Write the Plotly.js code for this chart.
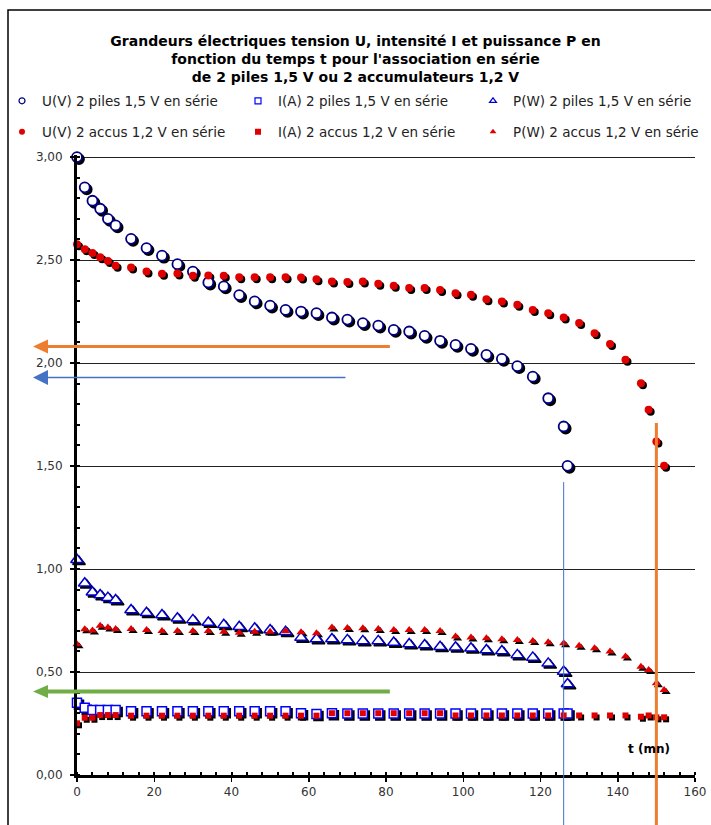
<!DOCTYPE html>
<html><head><meta charset="utf-8">
<script src="https://cdn.plot.ly/plotly-3.0.1.min.js"></script>
<style>html,body{margin:0;padding:0;background:#fff}#chart{width:711px;height:825px}</style>
</head><body><div id="chart"></div>
<script>
// ---- data ----
const tPiles = [0,2,4,6,8,10,14,18,22,26,30,34,38,42,46,50,54,58,62,66,70,74,78,82,86,90,94,98,102,106,110,114,118,122,126,127];
const uPiles = [3.00,2.853,2.788,2.749,2.700,2.668,2.603,2.558,2.521,2.480,2.444,2.391,2.372,2.330,2.299,2.279,2.258,2.250,2.242,2.221,2.211,2.194,2.182,2.161,2.153,2.132,2.108,2.088,2.069,2.040,2.020,1.985,1.934,1.829,1.692,1.501];
const iPiles = [0.351,0.327,0.316,0.316,0.316,0.316,0.310,0.310,0.310,0.310,0.310,0.310,0.310,0.310,0.310,0.310,0.310,0.300,0.296,0.300,0.298,0.298,0.298,0.298,0.298,0.298,0.298,0.298,0.298,0.298,0.298,0.298,0.298,0.298,0.298,0.298];
const pPiles = [1.045,0.931,0.887,0.874,0.861,0.850,0.801,0.788,0.777,0.761,0.753,0.740,0.729,0.720,0.712,0.704,0.696,0.667,0.660,0.660,0.656,0.651,0.651,0.643,0.636,0.631,0.623,0.620,0.615,0.607,0.602,0.583,0.571,0.542,0.502,0.442];

const tAccus = [0,2,4,6,8,10,14,18,22,26,30,34,38,42,46,50,54,58,62,66,70,74,78,82,86,90,94,98,102,106,110,114,118,122,126,130,134,138,142,146,148,150,152];
const uAccus = [2.577,2.553,2.534,2.514,2.495,2.472,2.464,2.445,2.433,2.435,2.424,2.425,2.424,2.417,2.417,2.417,2.417,2.415,2.407,2.396,2.394,2.396,2.385,2.375,2.364,2.364,2.355,2.339,2.331,2.310,2.299,2.283,2.258,2.242,2.221,2.194,2.145,2.092,2.016,1.902,1.773,1.619,1.501];
const iAccus = [0.251,0.278,0.278,0.291,0.291,0.291,0.288,0.288,0.288,0.288,0.288,0.288,0.288,0.288,0.288,0.288,0.288,0.288,0.288,0.300,0.300,0.300,0.300,0.300,0.300,0.300,0.300,0.289,0.289,0.289,0.289,0.289,0.289,0.289,0.289,0.289,0.289,0.289,0.289,0.283,0.289,0.280,0.280];
const pAccus = [0.635,0.708,0.701,0.724,0.716,0.709,0.709,0.704,0.699,0.699,0.699,0.699,0.696,0.691,0.696,0.696,0.699,0.693,0.688,0.716,0.714,0.712,0.709,0.704,0.704,0.704,0.699,0.672,0.667,0.664,0.659,0.656,0.651,0.644,0.640,0.627,0.615,0.599,0.575,0.526,0.510,0.445,0.413];

const xTickStep = 20, xMinorStep = 4;
const yTickStep = 0.5, yMinorStep = 0.1;

// reference lines / arrows (data units)
const vLines = [ {t:126, top:1.422, color:'#4472C4', width:1}, {t:150, top:1.709, color:'#ED7D31', width:3} ];
const hArrows = [ {v:2.08, tEnd:81, color:'#ED7D31', width:3, head:7}, {v:1.93, tEnd:69.5, color:'#4472C4', width:1.5, head:7.5}, {v:0.405, tEnd:81, color:'#70AD47', width:4, head:6.5} ];

// ---- geometry ----
const W = 711, H = 825;
const M = {l:77, r:16, t:155, b:50, autoexpand:false};
const X_RANGE = [0,160], Y_RANGE = [0,3.01];
const plotW = W - M.l - M.r, plotH = H - M.t - M.b;
const SH = 2; // shadow offset px
const dx = SH*(X_RANGE[1]-X_RANGE[0])/plotW, dy = SH*(Y_RANGE[1]-Y_RANGE[0])/plotH;
const pxToPaperX = px => (px - M.l)/plotW;
const pxToPaperY = py => (H - M.b - py)/plotH;

const FONT = 'DejaVu Sans, Verdana, sans-serif';

const series = [
  {name:'U(V) 2 piles 1,5 V en série', t:tPiles, v:uPiles, symbol:'circle', size:10, fill:'#ffffff', line:'#000080', lw:1.8, legend:'legend',  lx:2,   ly:101},
  {name:'I(A) 2 piles 1,5 V en série', t:tPiles, v:iPiles, symbol:'square', size:9, fill:'#ffffff', line:'#0000FF', lw:1.5, legend:'legend2', lx:238, ly:101},
  {name:'P(W) 2 piles 1,5 V en série', t:tPiles, v:pPiles, symbol:'triangle-up', size:11, fill:'#ffffff', line:'#0000CC', lw:1.5, legend:'legend3', lx:473, ly:101},
  {name:'U(V) 2 accus 1,2 V en série', t:tAccus, v:uAccus, symbol:'circle', size:8, fill:'#E00000', line:'#E00000', lw:0, legend:'legend4', lx:2,   ly:132},
  {name:'I(A) 2 accus 1,2 V en série', t:tAccus, v:iAccus, symbol:'square', size:6, fill:'#E00000', line:'#E00000', lw:0, legend:'legend5', lx:238, ly:132},
  {name:'P(W) 2 accus 1,2 V en série', t:tAccus, v:pAccus, symbol:'triangle-up', size:8, fill:'#E00000', line:'#E00000', lw:0, legend:'legend6', lx:473, ly:132}
];

const traces = [];
// shadows
series.forEach(s => traces.push({type:'scatter', mode:'markers', x:s.t, y:s.v, xaxis:'x', yaxis:'y', showlegend:false, hoverinfo:'skip', cliponaxis:false,
  marker:{symbol:s.symbol, size:s.size, color:'#000', line:{color:'#000', width:s.lw}}}));
// main markers
series.forEach(s => traces.push({type:'scatter', mode:'markers', x:s.t, y:s.v, xaxis:'x2', yaxis:'y2', showlegend:false, name:s.name, cliponaxis:false,
  marker:{symbol:s.symbol, size:s.size, color:s.fill, line:{color:s.line, width:s.lw}}}));
// legend proxies
series.forEach(s => traces.push({type:'scatter', mode:'markers', x:[null], y:[null], xaxis:'x2', yaxis:'y2', name:s.name, legend:s.legend, showlegend:true,
  marker:{symbol:s.symbol, size:6, color:s.fill, line:{color:s.line, width:s.lw ? 1.2 : 0}}}));

const shapes = [];
shapes.push({type:'rect', xref:'paper', yref:'paper', x0:pxToPaperX(8), x1:pxToPaperX(730), y0:pxToPaperY(845), y1:pxToPaperY(10), line:{color:'#000', width:1.5}, fillcolor:'rgba(0,0,0,0)', layer:'below'});
vLines.forEach(l => shapes.push({type:'line', xref:'x2', yref:'paper', x0:l.t, x1:l.t, y0:pxToPaperY(840), y1:(l.top-Y_RANGE[0])/(Y_RANGE[1]-Y_RANGE[0]), line:{color:l.color, width:l.width}}));
const tipPaper = pxToPaperX(33), headLen = 15;
hArrows.forEach(a => {
  shapes.push({type:'line', xref:'paper', yref:'y2', x0:tipPaper + (headLen-1)/plotW, x1:(a.tEnd-X_RANGE[0])/(X_RANGE[1]-X_RANGE[0]), y0:a.v, y1:a.v, line:{color:a.color, width:a.width}});
  shapes.push({type:'path', xref:'paper', yref:'y2', xsizemode:'pixel', ysizemode:'pixel', xanchor:tipPaper, yanchor:a.v,
    path:`M0,0 L${headLen},${a.head} L${headLen},${-a.head} Z`, fillcolor:a.color, line:{width:0}});
});

const tickFont = {family:FONT, size:12, color:'#333'};
const layout = {
  width:W, height:H, margin:M, paper_bgcolor:'#fff', plot_bgcolor:'rgba(0,0,0,0)',
  separators:', ',
  title:{text:'Grandeurs électriques tension U, intensité I et puissance P en<br>fonction du temps t pour l\'association en série<br>de 2 piles 1,5 V ou 2 accumulateurs 1,2 V',
    font:{family:FONT, size:14, color:'#000', weight:'bold'}, x:0.5, xref:'container', xanchor:'center', y:1-46/H, yref:'container', yanchor:'middle'},
  xaxis:{range:[X_RANGE[0]-dx, X_RANGE[1]-dx], visible:false, fixedrange:true},
  yaxis:{range:[Y_RANGE[0]+dy, Y_RANGE[1]+dy], visible:false, fixedrange:true},
  xaxis2:{overlaying:'x', anchor:'y2', range:X_RANGE, tick0:0, dtick:xTickStep, showgrid:false, zeroline:false,
    showline:true, linecolor:'#000', linewidth:2.5, ticks:'outside', ticklen:4, tickwidth:1.5, tickcolor:'#000', tickfont:tickFont,
    minor:{dtick:xMinorStep, tick0:0, ticks:'inside', ticklen:3, tickwidth:2, tickcolor:'#000', showgrid:false}},
  yaxis2:{overlaying:'y', anchor:'x2', range:Y_RANGE, tick0:0, dtick:yTickStep, tickformat:'.2f', showgrid:true, gridcolor:'#222', gridwidth:1, zeroline:false,
    showline:true, linecolor:'#000', linewidth:3, ticks:'outside', ticklen:4, tickwidth:1.5, tickcolor:'#000', tickfont:tickFont, ticklabelstandoff:5,
    minor:{dtick:yMinorStep, tick0:0, ticks:'inside', ticklen:3, tickwidth:2, tickcolor:'#000', showgrid:false}},
  shapes:shapes,
  annotations:[{xref:'x2', yref:'y2', x:148, y:0.126, text:'t (mn)', showarrow:false, font:{family:FONT, size:12, color:'#000', weight:'bold'}}]
};
series.forEach(s => {
  layout[s.legend] = {orientation:'h', x:pxToPaperX(s.lx), xanchor:'left', y:pxToPaperY(s.ly), yanchor:'middle', itemwidth:30,
    font:{family:FONT, size:13.5, color:'#222'}, bgcolor:'rgba(0,0,0,0)'};
});
Plotly.newPlot('chart', traces, layout, {staticPlot:true, displayModeBar:false});
</script></body></html>
